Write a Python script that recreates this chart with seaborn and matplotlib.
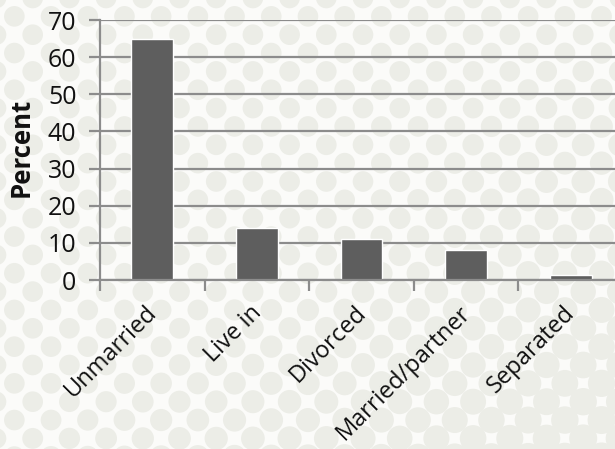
import numpy as np
import matplotlib
matplotlib.use("Agg")
import matplotlib.pyplot as plt
import matplotlib.transforms as mtransforms
from matplotlib.patches import Circle
import seaborn as sns

# Living arrangement shares (percent)
categories = ["Unmarried", "Live in", "Divorced", "Married/partner", "Separated"]
percent = [65, 14, 11, 8, 1.4]
y_ticks = [0, 10, 20, 30, 40, 50, 60, 70]

sns.set_theme(style="white")
plt.rcParams["font.family"] = ["Open Sans", "DejaVu Sans"]

W, H = 615, 449
fig = plt.figure(figsize=(W / 100, H / 100), dpi=100)
fig.patch.set_facecolor("#fbfbf9")

# Dotted texture behind the chart; dots swell toward the lower right
bg = fig.add_axes([0, 0, 1, 1], zorder=-5)
bg.set_xlim(0, W)
bg.set_ylim(H, 0)
bg.axis("off")
sx, sy = 36.7, 18.35
for j in range(int(H / sy) + 3):
    for i in range(int(W / sx) + 3):
        cx = i * sx + (j % 2) * sx / 2 - 4
        cy = j * sy - 2
        grow = max(0.0, cx / W + cy / H - 1.0)
        r = 10.3 + 4.0 * grow
        bg.add_patch(Circle((cx, cy), r, facecolor="#ecede7", edgecolor="none"))

# Main chart area
left, top, zero = 100, 20, 280
ax = fig.add_axes([left / W, (H - zero) / H, 523 / W, (zero - top) / H])
ax.patch.set_alpha(0)

sns.barplot(x=categories, y=percent, color="#5e5e5e", saturation=1,
            width=0.4, ax=ax, zorder=3)

grid_c = "#8c8c8c"
ax.set_ylim(0, 70)
ax.set_yticks(y_ticks)
ax.set_xlim(-0.5, len(categories) - 0.5)
ax.yaxis.grid(True, color=grid_c, linewidth=1.6, zorder=0)
ax.set_axisbelow(True)

for side in ("top", "right"):
    ax.spines[side].set_visible(False)
for side in ("left", "bottom"):
    ax.spines[side].set_color(grid_c)
    ax.spines[side].set_linewidth(1.6)
    ax.spines[side].set_zorder(4)

ax.tick_params(axis="y", which="major", length=8, width=1.6, color=grid_c,
               labelsize=18, pad=9, direction="out", left=True)
ax.tick_params(axis="x", which="major", length=0, labelsize=17, pad=21)
ax.set_xticks(np.arange(-0.5, len(categories) + 0.5), minor=True)
ax.tick_params(axis="x", which="minor", length=8, width=1.6, color=grid_c,
               direction="out", bottom=True)

offset = mtransforms.ScaledTranslation(1 / 100, 0, fig.dpi_scale_trans)
for lbl in ax.get_xticklabels():
    lbl.set_rotation(45)
    lbl.set_ha("right")
    lbl.set_va("center")
    lbl.set_rotation_mode("anchor")
    lbl.set_transform(lbl.get_transform() + offset)
    lbl.set_color("#111111")
for lbl in ax.get_yticklabels():
    lbl.set_color("#111111")

ax.set_xlabel("")
ax.set_ylabel("Percent", fontsize=18.5, fontweight="bold", color="#111111",
              va="center")
ax.yaxis.set_label_coords(-79 / 523, (zero - 147) / (zero - top))

fig.savefig("out.png", dpi=100, facecolor=fig.get_facecolor())
